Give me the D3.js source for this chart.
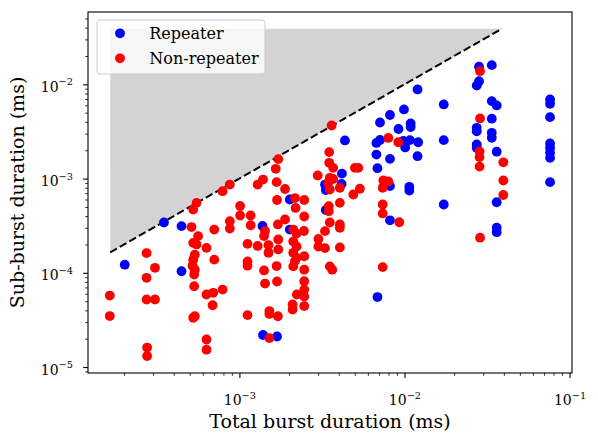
<!DOCTYPE html>
<html><head><meta charset="utf-8">
<script src="https://cdn.jsdelivr.net/npm/d3@7"></script>
<style>body{margin:0;background:#fff} svg{display:block} text{font-family:"DejaVu Serif",serif;fill:#000}</style>
</head><body><svg id="c" width="598" height="443"></svg>
<script>
// [total burst duration (ms), sub-burst duration (ms)]
const repeaters = [
[2.02e-4,1.22e-4],[3.49e-4,3.42e-4],[4.46e-4,3.13e-4],[4.46e-4,1.04e-4],[1.38e-3,3.14e-4],
[1.39e-3,2.19e-5],[1.69e-3,2.11e-5],[2.02e-3,6.00e-4],[2.02e-3,2.88e-4],[3.30e-3,8.65e-4],
[3.34e-3,7.56e-4],[3.34e-3,4.65e-4],[4.16e-3,8.77e-4],[4.18e-3,1.13e-3],[4.36e-3,2.54e-3],
[6.76e-3,2.39e-3],[7.11e-3,2.57e-3],[6.76e-3,1.80e-3],[6.86e-3,1.29e-3],[7.11e-3,3.94e-3],
[8.17e-3,4.73e-3],[8.17e-3,1.62e-3],[8.17e-3,8.34e-4],[8.17e-3,3.61e-4],[6.86e-3,5.53e-5],
[9.20e-3,3.36e-3],[9.93e-3,5.42e-3],[9.84e-3,2.51e-3],[1.01e-2,2.14e-3],[1.08e-2,2.56e-3],
[1.09e-2,3.85e-3],[1.09e-2,3.53e-3],[1.07e-2,8.18e-4],[1.07e-2,7.48e-4],[1.20e-2,8.83e-3],
[1.21e-2,2.43e-3],[1.20e-2,1.73e-3],[1.73e-2,6.12e-3],[1.73e-2,2.56e-3],[1.73e-2,5.31e-4],
[2.83e-2,1.54e-2],[3.38e-2,1.60e-2],[2.83e-2,1.08e-2],[2.74e-2,9.73e-3],[3.38e-2,6.64e-3],
[3.62e-2,5.97e-3],[3.38e-2,4.32e-3],[2.74e-2,3.46e-3],[2.74e-2,3.18e-3],[3.38e-2,3.06e-3],
[3.38e-2,2.71e-3],[2.74e-2,2.30e-3],[2.74e-2,2.12e-3],[3.62e-2,1.93e-3],[3.62e-2,5.61e-4],
[3.62e-2,3.01e-4],[3.62e-2,2.70e-4],[7.62e-2,6.92e-3],[7.62e-2,6.22e-3],[7.62e-2,4.49e-3],
[7.62e-2,2.36e-3],[7.62e-2,2.12e-3],[7.62e-2,1.88e-3],[7.62e-2,1.66e-3],[7.62e-2,9.17e-4]
];
const nonRepeaters = [
[1.64e-4,5.74e-5],[1.64e-4,3.48e-5],[2.74e-4,1.62e-4],[3.08e-4,1.13e-4],[2.74e-4,8.85e-5],
[2.74e-4,5.21e-5],[3.08e-4,5.21e-5],[2.76e-4,1.61e-5],[2.76e-4,1.31e-5],[5.50e-4,5.53e-4],
[5.25e-4,4.70e-4],[5.13e-4,3.06e-4],[5.62e-4,2.45e-4],[5.25e-4,2.08e-4],[5.50e-4,2.00e-4],
[5.37e-4,1.56e-4],[5.25e-4,1.38e-4],[5.20e-4,1.19e-4],[5.37e-4,1.08e-4],[5.32e-4,9.59e-5],
[5.32e-4,7.21e-5],[5.25e-4,3.33e-5],[5.37e-4,3.46e-5],[6.32e-4,1.84e-4],[7.04e-4,2.88e-4],
[7.04e-4,1.38e-4],[6.32e-4,5.89e-5],[6.94e-4,6.14e-5],[7.91e-4,6.65e-5],[6.88e-4,4.53e-5],
[6.32e-4,1.96e-5],[6.32e-4,1.53e-5],[7.91e-4,7.35e-4],[8.75e-4,8.65e-4],[1.01e-3,5.12e-4],
[1.01e-3,4.06e-4],[1.17e-3,4.06e-4],[8.75e-4,3.53e-4],[8.75e-4,2.95e-4],[1.17e-3,3.20e-4],
[1.12e-3,2.03e-4],[1.12e-3,1.32e-4],[1.12e-3,1.19e-4],[1.12e-3,3.56e-5],[1.29e-3,8.65e-4],
[1.39e-3,9.77e-4],[1.66e-3,1.27e-3],[1.72e-3,1.61e-3],[1.68e-3,9.17e-4],[1.89e-3,7.76e-4],
[1.69e-3,5.93e-4],[2.17e-3,6.22e-4],[2.19e-3,4.88e-4],[2.47e-3,5.93e-4],[2.47e-3,3.96e-4],
[1.89e-3,3.68e-4],[1.71e-3,3.26e-4],[1.43e-3,2.78e-4],[1.41e-3,2.46e-4],[1.29e-3,1.93e-4],
[1.50e-3,1.97e-4],[1.72e-3,2.26e-4],[1.50e-3,1.63e-4],[1.72e-3,1.77e-4],[1.68e-3,1.18e-4],
[1.41e-3,1.06e-4],[1.43e-3,7.69e-5],[1.69e-3,8.09e-5],[1.52e-3,3.93e-5],[1.52e-3,3.66e-5],
[1.71e-3,3.46e-5],[1.52e-3,2.03e-5],[2.12e-3,2.88e-4],[2.22e-3,2.61e-4],[2.46e-3,2.78e-4],
[2.12e-3,2.15e-4],[2.22e-3,1.90e-4],[2.12e-3,1.63e-4],[2.17e-3,1.33e-4],[2.12e-3,1.17e-4],
[2.22e-3,1.44e-4],[2.47e-3,1.50e-4],[2.47e-3,1.08e-4],[2.47e-3,8.14e-5],[2.47e-3,6.65e-5],
[2.47e-3,5.60e-5],[2.23e-3,5.89e-5],[2.47e-3,4.44e-5],[2.10e-3,4.61e-5],[2.10e-3,4.08e-5],
[2.98e-3,1.08e-3],[3.45e-3,9.02e-4],[3.53e-3,7.65e-4],[3.48e-3,5.09e-4],[3.48e-3,4.51e-4],
[3.53e-3,3.42e-4],[4.06e-3,3.26e-4],[4.06e-3,3.01e-4],[3.30e-3,2.77e-4],[3.01e-3,2.29e-4],
[3.01e-3,1.90e-4],[3.30e-3,1.83e-4],[4.06e-3,1.86e-4],[3.53e-3,1.17e-4],[3.65e-3,1.08e-4],
[3.62e-3,3.66e-3],[3.50e-3,1.91e-3],[3.50e-3,1.47e-3],[3.70e-3,1.30e-3],[3.53e-3,1.02e-3],
[3.70e-3,9.91e-4],[4.06e-3,7.98e-4],[5.01e-3,1.30e-3],[5.25e-3,1.30e-3],[5.37e-3,7.80e-4],
[4.90e-3,6.78e-4],[4.06e-3,5.53e-4],[7.45e-3,9.55e-4],[7.98e-3,9.31e-4],[7.38e-3,7.98e-4],
[7.38e-3,5.31e-4],[7.38e-3,4.27e-4],[9.30e-3,3.44e-4],[7.38e-3,1.15e-4],[7.98e-3,2.70e-3],
[9.17e-3,2.43e-3],[2.87e-2,1.38e-2],[2.87e-2,4.35e-3],[2.85e-2,1.94e-3],[2.85e-2,1.69e-3],
[2.85e-2,1.34e-3],[3.97e-2,1.49e-3],[3.97e-2,9.55e-4],[3.97e-2,6.70e-4],[2.87e-2,2.36e-4]
];
// equality line (sub-burst = total) and shaded forbidden region above it
const lineEnds = [1.65e-4, 3.9e-2];
const xTicks = [1e-3, 1e-2, 1e-1];
const xTickExp = ["\u22123", "\u22122", "\u22121"];
const yTicks = [1e-5, 1e-4, 1e-3, 1e-2];
const yTickExp = ["\u22125", "\u22124", "\u22123", "\u22122"];
const seriesNames = ["Repeater", "Non-repeater"];
const seriesColors = ["#0000ff", "#ff0000"];

const L = 88, R = 572, T = 12, B = 373;
const x = d3.scaleLog().domain([1.21e-4, 0.1035]).range([L, R]);
const y = d3.scaleLog().domain([8.65e-6, 5.86e-2]).range([B, T]);
const svg = d3.select("#c");

svg.append("defs").append("clipPath").attr("id", "clip")
  .append("rect").attr("x", L).attr("y", T).attr("width", R - L).attr("height", B - T);
const plot = svg.append("g").attr("clip-path", "url(#clip)");

const tri = [[lineEnds[0], lineEnds[0]], [lineEnds[1], lineEnds[1]], [lineEnds[0], lineEnds[1]]];
plot.append("path")
  .attr("d", d3.line().x(d => x(d[0])).y(d => y(d[1]))(tri) + "Z")
  .attr("fill", "#d3d3d3");
plot.append("path")
  .attr("d", d3.line().x(d => x(d)).y(d => y(d))(lineEnds))
  .attr("stroke", "#000").attr("stroke-width", 2).attr("stroke-dasharray", "7.7,3.3").attr("fill", "none");

const r = 4.9;
plot.append("g").selectAll("circle").data(repeaters).join("circle")
  .attr("cx", d => x(d[0])).attr("cy", d => y(d[1])).attr("r", r).attr("fill", seriesColors[0]);
plot.append("g").selectAll("circle").data(nonRepeaters).join("circle")
  .attr("cx", d => x(d[0])).attr("cy", d => y(d[1])).attr("r", r).attr("fill", seriesColors[1]);

// minor tick values
function minors(domain) {
  const out = [];
  for (let e = -6; e <= 0; e++) for (let k = 2; k <= 9; k++) {
    const v = k * Math.pow(10, e);
    if (v >= domain[0] && v <= domain[1]) out.push(v);
  }
  return out;
}
function styleAxis(g, w) {
  g.select(".domain").remove();
  g.selectAll(".tick line").attr("stroke", "#000").attr("stroke-width", w);
}
svg.append("g").attr("transform", `translate(0,${B})`)
  .call(d3.axisBottom(x).tickValues(minors(x.domain())).tickSize(2.8).tickFormat(""))
  .call(g => styleAxis(g, 0.8));
svg.append("g").attr("transform", `translate(${L},0)`)
  .call(d3.axisLeft(y).tickValues(minors(y.domain())).tickSize(2.8).tickFormat(""))
  .call(g => styleAxis(g, 0.8));

const xa = svg.append("g").attr("transform", `translate(0,${B})`)
  .call(d3.axisBottom(x).tickValues(xTicks).tickSize(4.9).tickFormat(""))
  .call(g => styleAxis(g, 1.1));
xa.selectAll(".tick").each(function (d, i) {
  const t = d3.select(this).append("text").attr("text-anchor", "middle").attr("y", 32).attr("font-size", 14);
  t.append("tspan").text("10");
  t.append("tspan").attr("font-size", 9.8).attr("dy", -6.5).text(xTickExp[i]);
});
const ya = svg.append("g").attr("transform", `translate(${L},0)`)
  .call(d3.axisLeft(y).tickValues(yTicks).tickSize(4.9).tickFormat(""))
  .call(g => styleAxis(g, 1.1));
ya.selectAll(".tick").each(function (d, i) {
  const t = d3.select(this).append("text").attr("text-anchor", "end").attr("x", -15).attr("y", 7).attr("font-size", 14);
  t.append("tspan").text("10");
  t.append("tspan").attr("font-size", 9.8).attr("dy", -6.5).text(yTickExp[i]);
});

svg.append("rect").attr("x", L).attr("y", T).attr("width", R - L).attr("height", B - T)
  .attr("fill", "none").attr("stroke", "#000").attr("stroke-width", 1.1);

svg.append("text").attr("x", (L + R) / 2).attr("y", 428).attr("text-anchor", "middle")
  .attr("font-size", 19).text("Total burst duration (ms)");
svg.append("text").attr("transform", `translate(24,${(T + B) / 2}) rotate(-90)`).attr("text-anchor", "middle")
  .attr("font-size", 19).text("Sub-burst duration (ms)");

// legend
const lg = svg.append("g");
lg.append("rect").attr("x", 97).attr("y", 20).attr("width", 168).attr("height", 54).attr("rx", 3)
  .attr("fill", "#fff").attr("fill-opacity", 0.8).attr("stroke", "#cccccc").attr("stroke-width", 1);
seriesNames.forEach((n, i) => {
  lg.append("circle").attr("cx", 120).attr("cy", 33.3 + i * 25).attr("r", r).attr("fill", seriesColors[i]);
  lg.append("text").attr("x", 149.3).attr("y", 39 + i * 24.5).attr("font-size", 16).text(n);
});
</script></body></html>
